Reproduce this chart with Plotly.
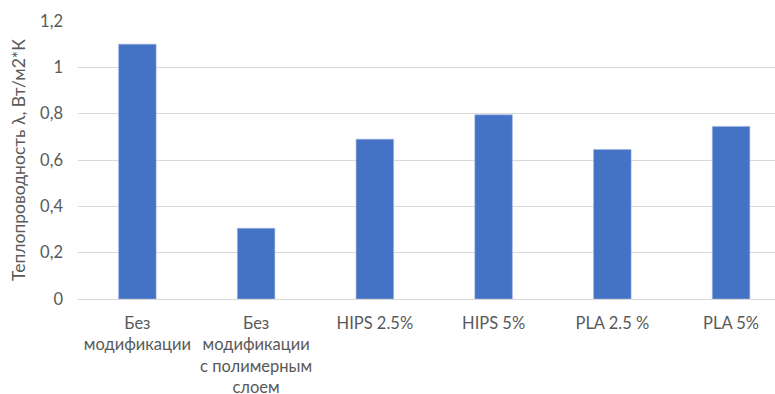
import plotly.graph_objects as go

# Thermal conductivity by sample type
categories = [
    "Без<br>модификации",
    "Без<br>модификации<br>с полимерным<br>слоем",
    "HIPS 2.5%",
    "HIPS 5%",
    "PLA 2.5 %",
    "PLA 5%",
]
conductivity = [1.1, 0.305, 0.69, 0.795, 0.645, 0.745]

y_title = "Теплопроводность λ, Вт/м2*К"
y_ticks = [0, 0.2, 0.4, 0.6, 0.8, 1.0, 1.2]

font_family = "Lato, 'Open Sans', sans-serif"
text_color = "#595959"

fig = go.Figure(
    go.Bar(
        x=list(range(len(categories))),
        y=conductivity,
        width=0.316,
        marker=dict(color="#4472C4", line=dict(color="#9DB5E0", width=0.6)),
        hoverinfo="y",
    )
)

fig.update_layout(
    width=775,
    height=394,
    margin=dict(l=78, r=0, t=21, b=95),
    paper_bgcolor="white",
    plot_bgcolor="white",
    separators=", ",
    showlegend=False,
    font=dict(family=font_family, color=text_color, size=16),
)

fig.update_xaxes(
    tickmode="array",
    tickvals=list(range(len(categories))),
    ticktext=categories,
    range=[-0.5, 5.37],
    automargin=False,
    showgrid=False,
    showline=True,
    linecolor="#D9D9D9",
    linewidth=1,
    ticks="",
    ticklabelstandoff=9,
    tickfont=dict(size=16.5, color=text_color),
)

fig.update_yaxes(
    range=[0, 1.2],
    tickvals=y_ticks,
    automargin=False,
    showgrid=True,
    gridcolor="#D9D9D9",
    gridwidth=1,
    zeroline=False,
    showline=False,
    ticks="",
    ticklabelstandoff=14,
    tickfont=dict(size=16.5, color=text_color),
    title=dict(text=y_title, font=dict(size=17.5, color=text_color), standoff=9),
)

fig.write_html("out.html")
